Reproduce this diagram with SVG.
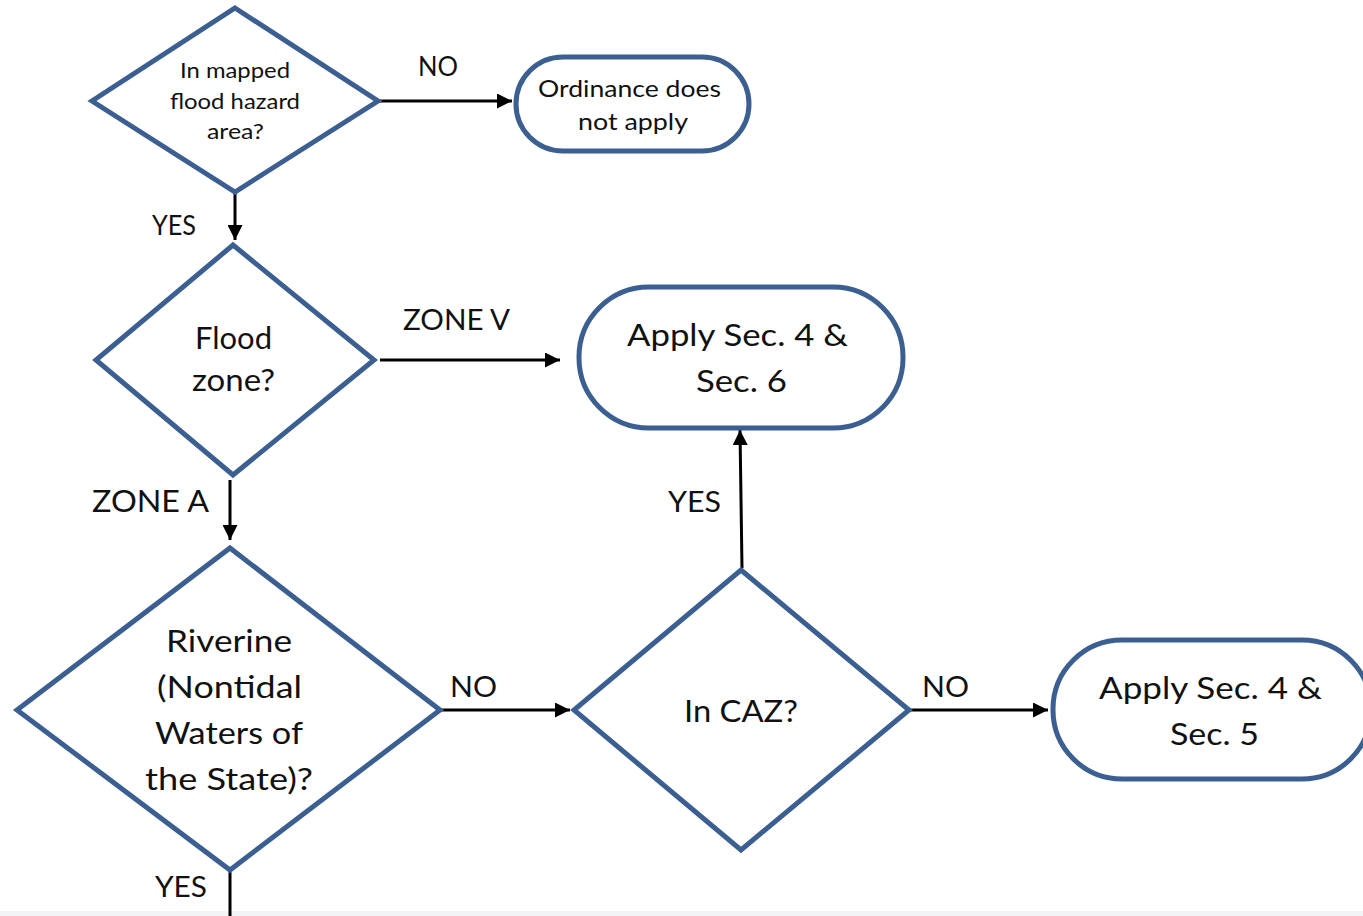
<svg xmlns="http://www.w3.org/2000/svg" width="1363" height="916" viewBox="0 0 1363 916">
<defs>
<marker id="ah" viewBox="0 0 10 10" refX="10" refY="5" markerWidth="5" markerHeight="5" markerUnits="strokeWidth" orient="auto">
<path d="M0,0 L10,5 L0,10 z" fill="#000"/>
</marker>
<style>
.shape{fill:#fff;stroke:#3C5F92;stroke-width:5;stroke-linejoin:miter}
.t{font-family:Lato,"Liberation Sans",sans-serif;fill:#111;text-anchor:middle}
.lbl{font-family:Lato,"Liberation Sans",sans-serif;fill:#111;text-anchor:middle}
.c{stroke:#000;stroke-width:3;fill:none;marker-end:url(#ah)}
.cn{stroke:#000;stroke-width:3;fill:none}
</style>
</defs>
<rect x="0" y="0" width="1363" height="916" fill="#fff"/>
<rect x="0" y="911" width="1363" height="5" fill="#f3f4f6"/>
<g id="connectors">
<path class="c" d="M378,101 L512,101"/>
<path class="c" d="M235,192 L235,240"/>
<path class="c" d="M380,360 L560,360"/>
<path class="c" d="M230,480 L230,540"/>
<path class="c" d="M440,710 L570,710"/>
<path class="c" d="M742,568 L740,430"/>
<path class="c" d="M909,710 L1048,710"/>
<path class="cn" d="M230,872 L230,916"/>
<text class="lbl" font-size="27" x="438" y="76" textLength="40" lengthAdjust="spacingAndGlyphs">NO</text>
<text class="lbl" font-size="27" x="174" y="235" textLength="44" lengthAdjust="spacingAndGlyphs">YES</text>
<text class="lbl" font-size="29" x="456.5" y="330" textLength="107" lengthAdjust="spacingAndGlyphs">ZONE V</text>
<text class="lbl" font-size="30" x="150.5" y="512" textLength="117" lengthAdjust="spacingAndGlyphs">ZONE A</text>
<text class="lbl" font-size="29" x="473.5" y="697" textLength="47" lengthAdjust="spacingAndGlyphs">NO</text>
<text class="lbl" font-size="29" x="694.5" y="512" textLength="53" lengthAdjust="spacingAndGlyphs">YES</text>
<text class="lbl" font-size="29" x="945.5" y="697" textLength="47" lengthAdjust="spacingAndGlyphs">NO</text>
<text class="lbl" font-size="29" x="181" y="897" textLength="52" lengthAdjust="spacingAndGlyphs">YES</text>
</g>
<g id="d1">
<polygon class="shape" points="235,8 378,101 235,192 92,101"/>
<text class="t" font-size="21" x="235" y="78" textLength="110" lengthAdjust="spacingAndGlyphs">In mapped</text>
<text class="t" font-size="21" x="235" y="109" textLength="130" lengthAdjust="spacingAndGlyphs">flood hazard</text>
<text class="t" font-size="21" x="235.5" y="139" textLength="57" lengthAdjust="spacingAndGlyphs">area?</text>
</g>
<g id="b1">
<rect class="shape" x="516" y="57" width="233" height="94" rx="47"/>
<text class="t" font-size="24" x="629.5" y="97" textLength="183" lengthAdjust="spacingAndGlyphs">Ordinance does</text>
<text class="t" font-size="24" x="633" y="130" textLength="110" lengthAdjust="spacingAndGlyphs">not apply</text>
</g>
<g id="d2">
<polygon class="shape" points="233,245 374,360 233,475 96,360"/>
<text class="t" font-size="30" x="233.5" y="349" textLength="77" lengthAdjust="spacingAndGlyphs">Flood</text>
<text class="t" font-size="30" x="233.5" y="391" textLength="83" lengthAdjust="spacingAndGlyphs">zone?</text>
</g>
<g id="b2">
<rect class="shape" x="579" y="287" width="324" height="141" rx="70"/>
<text class="t" font-size="31" x="737.5" y="346" textLength="221" lengthAdjust="spacingAndGlyphs">Apply Sec. 4 &amp;</text>
<text class="t" font-size="31" x="741.5" y="392" textLength="91" lengthAdjust="spacingAndGlyphs">Sec. 6</text>
</g>
<g id="d3">
<polygon class="shape" points="230,548 440,710 230,870 17,710"/>
<text class="t" font-size="31" x="229" y="652" textLength="126" lengthAdjust="spacingAndGlyphs">Riverine</text>
<text class="t" font-size="31" x="229.5" y="698" textLength="145" lengthAdjust="spacingAndGlyphs">(Nontidal</text>
<text class="t" font-size="31" x="229" y="744" textLength="148" lengthAdjust="spacingAndGlyphs">Waters of</text>
<text class="t" font-size="31" x="229" y="790" textLength="168" lengthAdjust="spacingAndGlyphs">the State)?</text>
</g>
<g id="d4">
<polygon class="shape" points="741,570 909,710 741,850 574,710"/>
<text class="t" font-size="31" x="741" y="722" textLength="114" lengthAdjust="spacingAndGlyphs">In CAZ?</text>
</g>
<g id="b3">
<rect class="shape" x="1053" y="640" width="318" height="139" rx="69"/>
<text class="t" font-size="31" x="1210.5" y="699" textLength="223" lengthAdjust="spacingAndGlyphs">Apply Sec. 4 &amp;</text>
<text class="t" font-size="31" x="1214.5" y="745" textLength="89" lengthAdjust="spacingAndGlyphs">Sec. 5</text>
</g>
</svg>
